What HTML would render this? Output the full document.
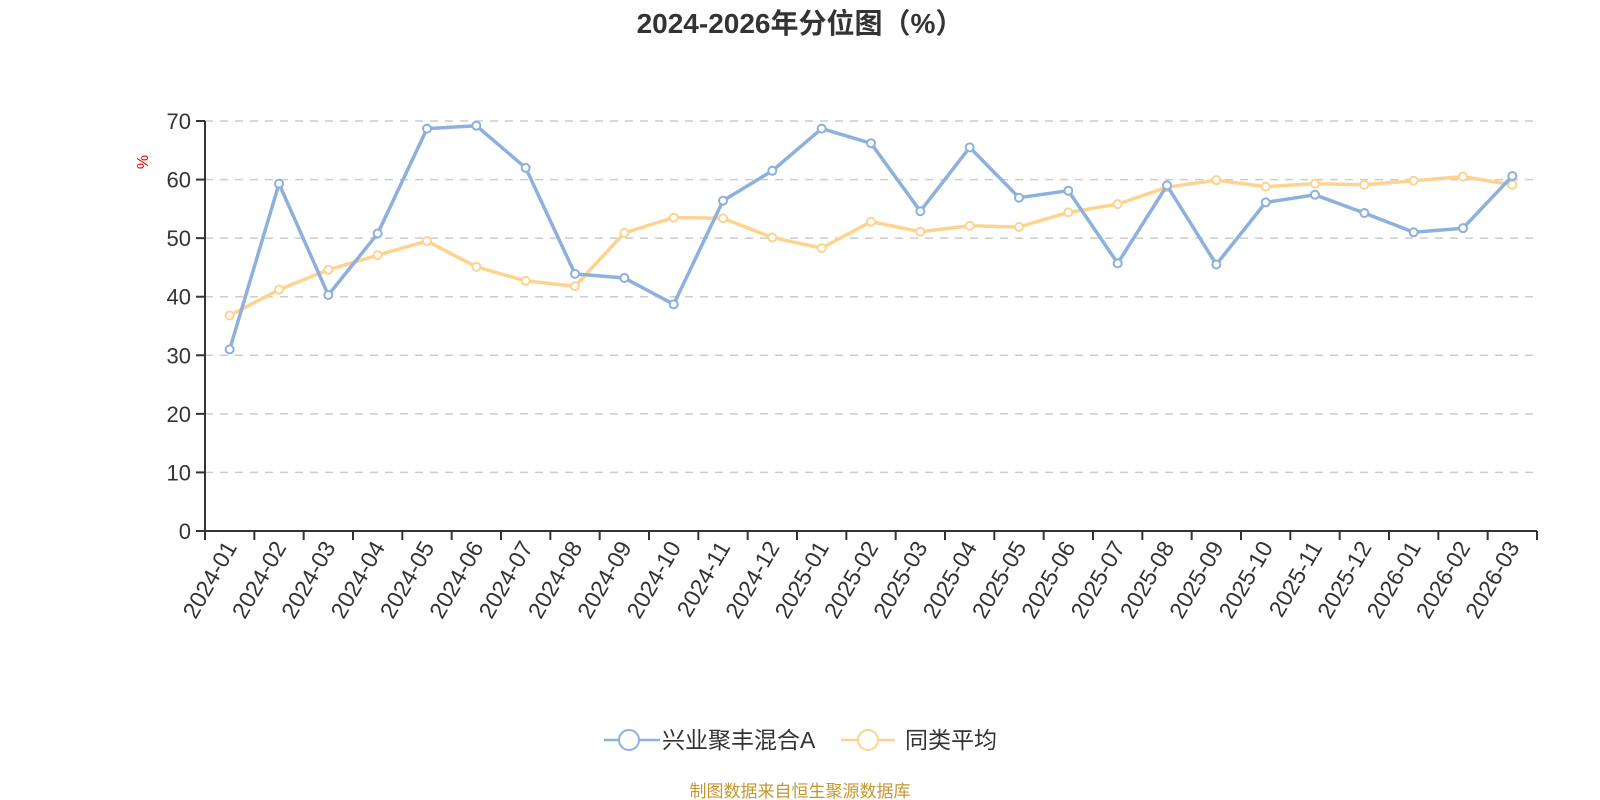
<!DOCTYPE html>
<html><head><meta charset="utf-8"><style>
html,body{margin:0;padding:0;background:#fff;width:1600px;height:800px;overflow:hidden}
text{font-family:"Liberation Sans","Noto Sans CJK SC",sans-serif}
</style></head><body>
<svg id="s" width="1600" height="800" xmlns="http://www.w3.org/2000/svg">
<text x="800" y="33" text-anchor="middle" font-size="28" font-weight="bold" fill="#333">2024-2026年分位图（%）</text>
<text transform="translate(148,162) rotate(-90)" text-anchor="middle" font-size="16" fill="#e00">%</text>
<g id="g"></g>
<line x1="604" y1="740" x2="660" y2="740" stroke="#8eb0dd" stroke-width="2.5"/>
<circle cx="629" cy="740" r="10" fill="#fff" stroke="#8eb0dd" stroke-width="2"/>
<text x="662" y="748" font-size="23" fill="#333">兴业聚丰混合A</text>
<line x1="841" y1="740" x2="895" y2="740" stroke="#fdd38f" stroke-width="2.5"/>
<circle cx="868" cy="740" r="10" fill="#fff" stroke="#fdd38f" stroke-width="2"/>
<text x="905" y="748" font-size="23" fill="#333">同类平均</text>
<text x="800" y="797" text-anchor="middle" font-size="17" fill="#c8962e">制图数据来自恒生聚源数据库</text>
</svg>
<script>
var g=document.getElementById('g'),h='';
var L=205,R=1537,Y0=531,K=(531-121)/70;
function y(v){return Y0-v*K}
for(var v=0;v<=70;v+=10){
 if(v>0)h+='<line x1="'+L+'" y1="'+y(v)+'" x2="'+R+'" y2="'+y(v)+'" stroke="#ccc" stroke-width="1.5" stroke-dasharray="8,7"/>';
 h+='<line x1="'+(L-9)+'" y1="'+y(v)+'" x2="'+L+'" y2="'+y(v)+'" stroke="#333" stroke-width="2"/>';
 h+='<text x="'+(L-14)+'" y="'+(y(v)+8)+'" text-anchor="end" font-size="22" fill="#333">'+v+'</text>';
}
h+='<line x1="'+L+'" y1="'+y(70)+'" x2="'+L+'" y2="'+Y0+'" stroke="#333" stroke-width="2"/>';
h+='<line x1="'+L+'" y1="'+Y0+'" x2="'+R+'" y2="'+Y0+'" stroke="#333" stroke-width="2"/>';
var n=27,bw=(R-L)/n,labs=[];
for(var i=0;i<n;i++){var yr=2024+Math.floor(i/12),m=i%12+1;labs.push(yr+'-'+(m<10?'0':'')+m);}
for(var i=0;i<=n;i++){var x=L+bw*i;h+='<line x1="'+x+'" y1="'+Y0+'" x2="'+x+'" y2="'+(Y0+9)+'" stroke="#333" stroke-width="2"/>';}
for(var i=0;i<n;i++){var x=L+bw*(i+0.5);h+='<text transform="translate('+(x+8)+','+(Y0+16)+') rotate(-60)" text-anchor="end" font-size="23" fill="#333">'+labs[i]+'</text>';}
var A=[31,59.3,40.3,50.8,68.7,69.2,62,43.9,43.2,38.7,56.4,61.5,68.7,66.2,54.6,65.5,56.9,58.1,45.7,59,45.5,56.1,57.4,54.3,51,51.7,60.6];
var B=[36.8,41.2,44.6,47.1,49.5,45.1,42.7,41.8,50.9,53.5,53.4,50.1,48.3,52.8,51.1,52.1,51.9,54.4,55.8,58.7,59.9,58.8,59.3,59.1,59.8,60.5,59.1];
function ser(d,c){var p=d.map(function(v,i){return (L+bw*(i+0.5)).toFixed(1)+','+y(v).toFixed(1)}).join(' ');
 var s='<polyline points="'+p+'" fill="none" stroke="'+c+'" stroke-width="3.5" stroke-linejoin="round"/>';
 d.forEach(function(v,i){s+='<circle cx="'+(L+bw*(i+0.5))+'" cy="'+y(v)+'" r="4" fill="#fff" stroke="'+c+'" stroke-width="2"/>'});return s;}
h+=ser(B,'#fdd38f')+ser(A,'#8eb0dd');
g.innerHTML=h;
</script>
</body></html>
